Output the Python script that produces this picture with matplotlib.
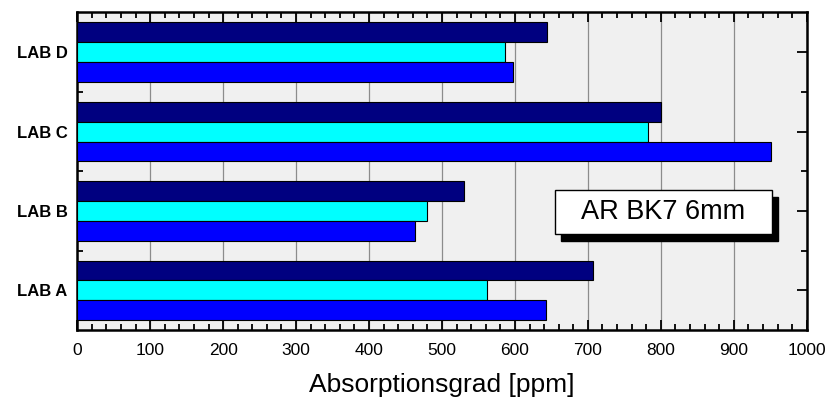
import matplotlib.pyplot as plt
from matplotlib.patches import Rectangle
from matplotlib.ticker import MultipleLocator
import numpy as np

plt.rcParams['font.family'] = ['Liberation Sans', 'DejaVu Sans']

# Absorption per lab, three measurements each
labs = ["LAB A", "LAB B", "LAB C", "LAB D"]
series_top = [707, 530, 800, 644]     # navy
series_mid = [562, 480, 783, 586]     # cyan
series_bot = [643, 463, 951, 598]     # blue
colors = ["#000080", "#00FFFF", "#0000FF"]

fig = plt.figure(figsize=(8.3, 4.03), dpi=100)
ax = fig.add_axes([0.093, 0.181, 0.879, 0.788])
ax.set_facecolor("#F0F0F0")

y = np.arange(len(labs))
h = 0.25
for offset, vals, c in zip([h, 0, -h], [series_top, series_mid, series_bot], colors):
    ax.barh(y + offset, vals, height=h, color=c, edgecolor="black", linewidth=0.8, zorder=3)

ax.set_xlim(0, 1000)
ax.set_ylim(-0.5, 3.5)
ax.xaxis.set_major_locator(MultipleLocator(100))
ax.xaxis.set_minor_locator(MultipleLocator(20))
ax.set_yticks(y)
ax.set_yticklabels(labs, fontweight="bold", fontsize=12)
ax.set_yticks([0.5, 1.5, 2.5], minor=True)
ax.tick_params(axis="both", which="both", direction="in", top=True, right=True, width=1.3)
ax.tick_params(axis="both", which="major", length=7)
ax.tick_params(axis="both", which="minor", length=4)
ax.tick_params(axis="x", labelsize=12.5, pad=9)
ax.tick_params(axis="y", pad=7)
ax.grid(axis="x", which="major", color="#8C8C8C", linewidth=0.9, zorder=1)
ax.set_axisbelow(True)
for s in ax.spines.values():
    s.set_linewidth(1.8)

ax.set_xlabel("Absorptionsgrad [ppm]", fontsize=19, labelpad=11)

# label box with drop shadow
bx0, bx1, by0, by1 = 655, 952, 0.711, 1.267
ax.add_patch(Rectangle((bx0 + 8.5, by0 - 0.085), bx1 - bx0, by1 - by0,
                       facecolor="black", edgecolor="black", zorder=5))
ax.add_patch(Rectangle((bx0, by0), bx1 - bx0, by1 - by0,
                       facecolor="white", edgecolor="black", linewidth=1.0, zorder=6))
ax.text((bx0 + bx1) / 2, (by0 + by1) / 2, "AR BK7 6mm", fontsize=19.5,
        ha="center", va="center", zorder=7)

fig.savefig("out.png", dpi=100)
